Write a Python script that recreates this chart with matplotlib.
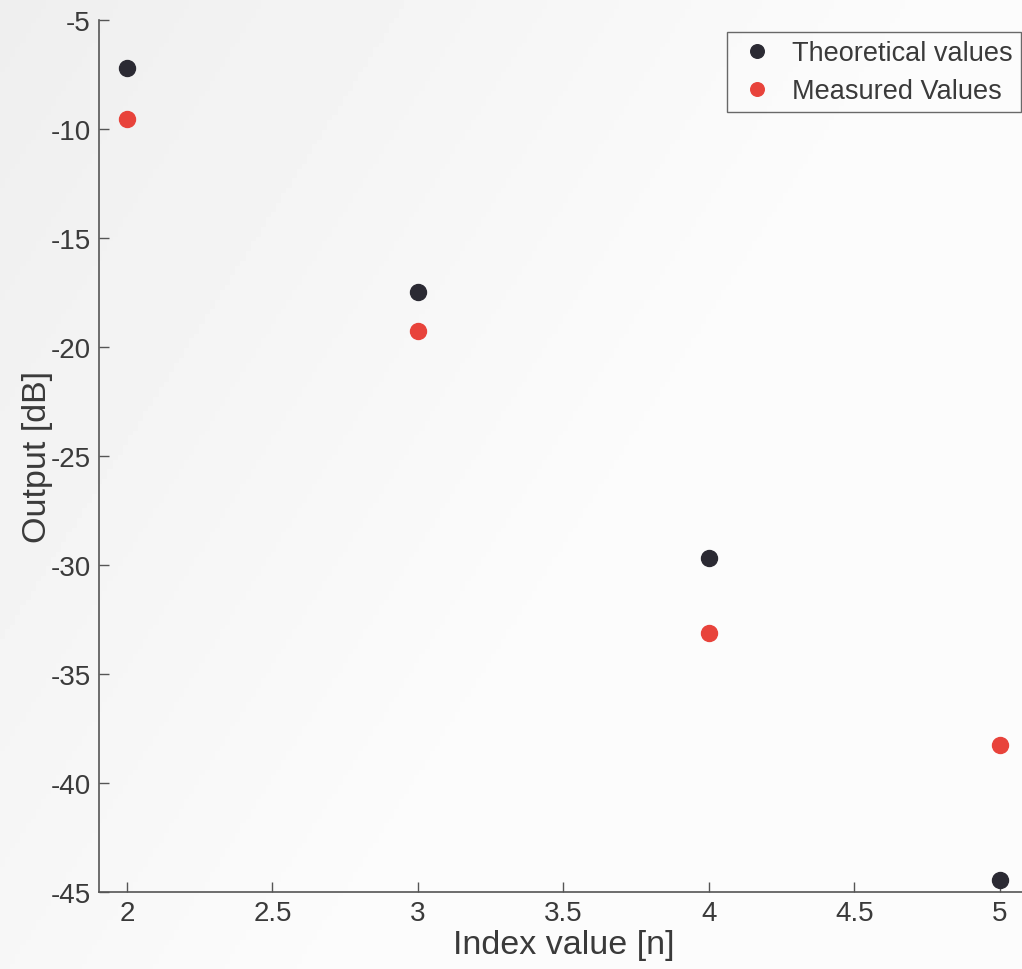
import numpy as np
import matplotlib.pyplot as plt

# ── data ──────────────────────────────────────────────────
n_index     = [2, 3, 4, 5]
theoretical = [-7.2, -17.5, -29.7, -44.45]
measured    = [-9.55, -19.25, -33.1, -38.25]

plt.rcParams["font.family"] = ["Liberation Sans", "DejaVu Sans"]
plt.rcParams["axes.unicode_minus"] = False
TXT = "#3a3a3a"

fig = plt.figure(figsize=(10.22, 9.70), dpi=100, facecolor="#fafafa")

# scanned-paper shading: greyer towards the upper left
bg = fig.add_axes([0, 0, 1, 1], zorder=-10)
gx, gy = np.meshgrid(np.linspace(0, 1, 200), np.linspace(0, 1, 200))
shade = np.clip(1 - (gx + 0.6 * gy) / 0.9, 0, 1)
bg.imshow(0.985 - 0.05 * shade, cmap="gray", vmin=0, vmax=1,
          extent=[0, 1, 0, 1], aspect="auto")
bg.axis("off")

ax = fig.add_axes([0.0969, 0.0794, 0.91, 0.899])
ax.set_facecolor("none")

ax.plot(n_index, theoretical, "o", color="#2b2a33", markersize=11.5,
        label="Theoretical values", clip_on=False)
ax.plot(n_index, measured, "o", color="#e8433b", markersize=11.5,
        label="Measured Values", clip_on=False)

ax.set_xlim(1.904, 5.1)
ax.set_ylim(-45, -5)
ax.set_xticks([2, 2.5, 3, 3.5, 4, 4.5, 5])
ax.set_xticklabels(["2", "2.5", "3", "3.5", "4", "4.5", "5"])
ax.set_yticks(np.arange(-45, -4, 5))

for s in ["top", "right"]:
    ax.spines[s].set_visible(False)
for s in ["left", "bottom"]:
    ax.spines[s].set_color("#555555")
    ax.spines[s].set_linewidth(1.2)

ax.tick_params(direction="in", length=7, width=1.0, color="#555555",
               labelsize=20, labelcolor=TXT, pad=6)
ax.set_xlabel("Index value [n]", fontsize=24.5, color=TXT, labelpad=2)
ax.set_ylabel("Output [dB]", fontsize=24.5, color=TXT, labelpad=-2)

leg = ax.legend(loc="upper left", bbox_to_anchor=(727 / 1022, 1 - 33 / 970),
                bbox_transform=fig.transFigure, borderaxespad=0,
                fontsize=19.5, frameon=True,
                fancybox=False, edgecolor="#444444", facecolor="none",
                handletextpad=0.5, handlelength=1.6, borderpad=0.3,
                labelspacing=0.45, markerscale=0.85)
leg.get_frame().set_linewidth(1.0)
for t in leg.get_texts():
    t.set_color(TXT)

plt.savefig("out.png", dpi=100, facecolor=fig.get_facecolor())
